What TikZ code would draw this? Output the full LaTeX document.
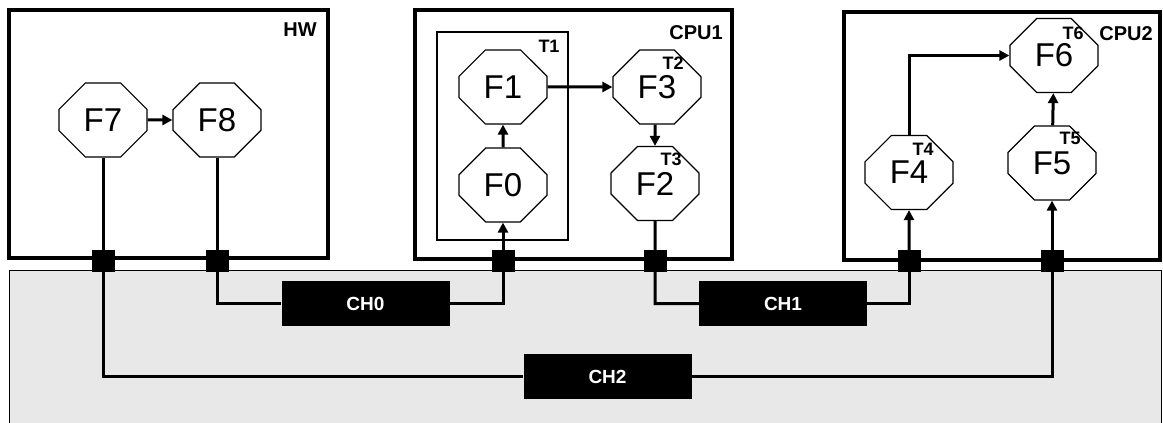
\documentclass[tikz,border=0pt]{standalone}
\usepackage{fontspec}
\setmainfont{Liberation Sans}
\usetikzlibrary{arrows.meta,positioning,shapes.misc}
\definecolor{busgray}{gray}{0.91}

\begin{document}
\begin{tikzpicture}[x=1pt, y=-1pt, >={Triangle[length=10pt,width=10pt]},
  fnode/.style={draw, line width=1.2pt, fill=white, chamfered rectangle,
    chamfered rectangle sep=15pt, minimum width=88pt, minimum height=74pt,
    inner sep=0pt, font=\fontsize{33}{36}\selectfont},
  portsq/.style={fill=black, minimum width=23pt, minimum height=22pt, inner sep=0pt},
  chbox/.style={fill=black, text=white, minimum width=168pt, minimum height=45pt,
    inner sep=0pt, font=\bfseries\fontsize{19}{22}\selectfont},
  wire/.style={line width=3pt},
  unitbox/.style={draw, line width=4.5pt},
  tlabel/.style={font=\bfseries\fontsize{18}{20}\selectfont, inner sep=0pt},
  ulabel/.style={font=\bfseries\fontsize{20}{22}\selectfont, inner sep=0pt, anchor=north east}]
\useasboundingbox (0,0) rectangle (1163,423);
\clip (0,0) rectangle (1163,423);
% shared bus area
\draw[fill=busgray, line width=1pt] (9,270) rectangle (1161,440);
% units
\draw[unitbox] (9,10) rectangle (328,258);
\draw[unitbox] (415,10) rectangle (732,259);
\draw[unitbox] (844,12) rectangle (1160,260);
\draw[line width=1.2pt] (437,32) rectangle (568,240);
\node[ulabel] (hw) at (317,23) {HW};
\node[ulabel] (cpu1) at (723,25) {CPU1};
\node[ulabel] (cpu2) at (1153,26) {CPU2};
% functions
\node[fnode] (F7) at (103,120) {F7};
\node[fnode] (F8) at (217,120) {F8};
\node[fnode] (F1) at (503,87) {F1};
\node[fnode] (F0) at (503,185) {F0};
\node[fnode] (F3) at (657,87) {F3};
\node[fnode] (F2) at (655,183.5) {F2};
\node[fnode] (F4) at (909,172.5) {F4};
\node[fnode] (F5) at (1052,163) {F5};
\node[fnode] (F6) at (1054,55.5) {F6};
% task labels
\node[tlabel] (t1) at (549,46) {T1};
\node[tlabel] (t2) at (673,63.5) {T2};
\node[tlabel] (t3) at (671,159) {T3};
\node[tlabel] (t4) at (923,149) {T4};
\node[tlabel] (t5) at (1070,138) {T5};
\node[tlabel] (t6) at (1073,33) {T6};
% ports on the unit borders
\foreach \nm/\px in {s7/103, s8/217, s0/503, s2/655, s4/909, s5/1052}
  \node[portsq] (\nm) at (\px,261) {};
% channels
\node[chbox] (ch0) at (365.5,303.5) {CH0};
\node[chbox] (ch1) at (783,303.5) {CH1};
\node[chbox] (ch2) at (607.5,376.5) {CH2};
% local flows
\draw[wire,->] (F7) -- (F8);
\draw[wire,->] (F0) -- (F1);
\draw[wire,->] (F1) -- (F3);
\draw[wire,->] (F3.south -| F2) -- (F2);
\draw[wire,->] (F4) |- (F6);
\draw[wire,->] (F5) -- (F6);
% channel wiring
\draw[wire] (F7) -- (s7.center) |- (ch2.west);
\draw[wire] (ch2.east) -| (s5.center);
\draw[wire,->] (s5.center) -- (F5);
\draw[wire] (F8) -- (s8.center) |- (ch0.west);
\draw[wire] (ch0.east) -| (s0.center);
\draw[wire,->] (s0.center) -- (F0);
\draw[wire] (F2) -- (s2.center) |- (ch1.west);
\draw[wire] (ch1.east) -| (s4.center);
\draw[wire,->] (s4.center) -- (F4);
\end{tikzpicture}
\end{document}
